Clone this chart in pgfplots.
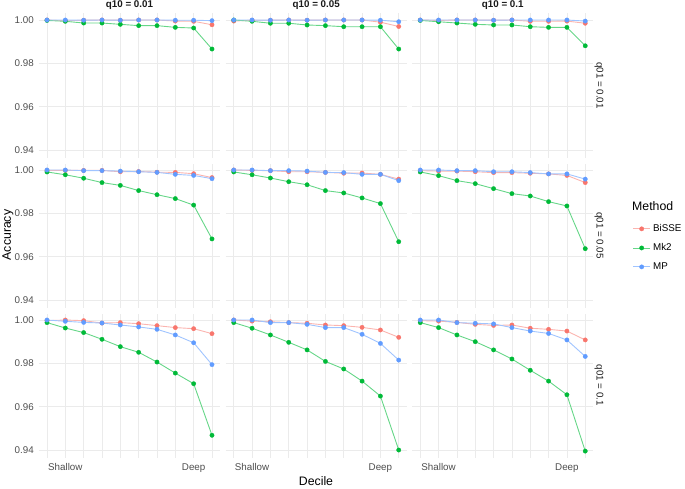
\documentclass[border=0pt]{standalone}
\usepackage{pgfplots}
\pgfplotsset{compat=1.18}
\usepackage{pgfplotstable}
\usepackage{fontspec}
\setmainfont{Liberation Sans}
\definecolor{cB}{HTML}{F8766D}
\definecolor{cM}{HTML}{00BA38}
\definecolor{cP}{HTML}{619CFF}
\definecolor{gridc}{HTML}{EBEBEB}
\definecolor{tickc}{HTML}{4D4D4D}
\definecolor{stripc}{HTML}{1A1A1A}
\newcommand\ticksize{\fontsize{9.8pt}{11pt}\selectfont}
\newcommand\titlesize{\fontsize{12.3pt}{14pt}\selectfont}
\newcommand\stripsize{\fontsize{9.8pt}{11pt}\selectfont\bfseries}
\newcommand\rstripsize{\fontsize{9.8pt}{11pt}\selectfont}

% row 1 (q01 = 0.01)
\pgfplotstableread{
x B M P
1 1.0000 0.9998 1.0000
2 0.9996 0.9994 1.0000
3 0.9999 0.9986 0.9999
4 1.0000 0.9986 1.0000
5 0.9999 0.9980 0.9999
6 1.0000 0.9974 1.0000
7 1.0000 0.9974 1.0000
8 0.9995 0.9966 0.9999
9 0.9994 0.9963 0.9999
10 0.9978 0.9866 0.9997
}\rAa
\pgfplotstableread{
x B M P
1 0.9995 1.0000 1.0000
2 0.9999 0.9994 1.0000
3 0.9999 0.9985 0.9999
4 1.0000 0.9985 1.0000
5 0.9999 0.9977 0.9999
6 1.0000 0.9974 1.0000
7 1.0000 0.9969 1.0000
8 1.0000 0.9969 1.0000
9 0.9990 0.9969 0.9999
10 0.9970 0.9866 0.9992
}\rAb
\pgfplotstableread{
x B M P
1 1.0000 0.9998 1.0000
2 0.9998 0.9992 1.0000
3 1.0000 0.9986 1.0000
4 1.0000 0.9980 1.0000
5 0.9999 0.9977 0.9999
6 1.0000 0.9977 1.0000
7 0.9994 0.9969 1.0000
8 0.9994 0.9966 1.0000
9 0.9995 0.9966 1.0000
10 0.9985 0.9881 0.9995
}\rAc
% row 2 (q01 = 0.05)
\pgfplotstableread{
x B M P
1 0.9998 0.9991 1.0000
2 0.9998 0.9978 1.0000
3 0.9998 0.9962 0.9997
4 0.9998 0.9942 0.9997
5 0.9992 0.9929 0.9995
6 0.9993 0.9905 0.9992
7 0.9990 0.9886 0.9989
8 0.9989 0.9868 0.9980
9 0.9983 0.9838 0.9975
10 0.9965 0.9682 0.9960
}\rBa
\pgfplotstableread{
x B M P
1 1.0000 0.9991 1.0000
2 0.9998 0.9978 1.0000
3 0.9997 0.9963 0.9997
4 0.9992 0.9946 0.9997
5 0.9992 0.9932 0.9995
6 0.9989 0.9905 0.9989
7 0.9985 0.9894 0.9988
8 0.9986 0.9871 0.9980
9 0.9980 0.9845 0.9980
10 0.9958 0.9669 0.9951
}\rBb
\pgfplotstableread{
x B M P
1 0.9997 0.9991 1.0000
2 0.9995 0.9974 1.0000
3 0.9995 0.9951 0.9997
4 0.9992 0.9937 0.9997
5 0.9988 0.9914 0.9992
6 0.9988 0.9891 0.9992
7 0.9985 0.9880 0.9988
8 0.9982 0.9854 0.9982
9 0.9975 0.9834 0.9982
10 0.9942 0.9637 0.9958
}\rBc
% row 3 (q01 = 0.1)
\pgfplotstableread{
x B M P
1 0.9997 0.9988 1.0000
2 1.0000 0.9963 0.9994
3 0.9997 0.9942 0.9989
4 0.9986 0.9911 0.9986
5 0.9988 0.9877 0.9977
6 0.9983 0.9851 0.9968
7 0.9974 0.9806 0.9957
8 0.9965 0.9755 0.9931
9 0.9960 0.9706 0.9895
10 0.9937 0.9468 0.9794
}\rCa
\pgfplotstableread{
x B M P
1 1.0000 0.9988 1.0000
2 0.9995 0.9962 1.0000
3 0.9992 0.9931 0.9988
4 0.9988 0.9897 0.9988
5 0.9985 0.9862 0.9980
6 0.9977 0.9809 0.9965
7 0.9974 0.9774 0.9965
8 0.9966 0.9718 0.9934
9 0.9954 0.9649 0.9892
10 0.9920 0.9400 0.9815
}\rCb
\pgfplotstableread{
x B M P
1 0.9997 0.9988 1.0000
2 0.9995 0.9965 1.0000
3 0.9989 0.9931 0.9988
4 0.9980 0.9900 0.9985
5 0.9975 0.9862 0.9982
6 0.9977 0.9820 0.9965
7 0.9962 0.9768 0.9949
8 0.9957 0.9718 0.9938
9 0.9949 0.9655 0.9908
10 0.9908 0.9395 0.9832
}\rCc

\pgfplotsset{
  panel/.style={
    scale only axis, width=181.5pt, height=144.1pt, anchor=south west,
    xmin=0.55, xmax=10.45, ymin=0.9365, ymax=1.003,
    axis line style={draw=none}, major tick length=0pt,
    xtick={1,...,10}, ytick={0.94,0.96,0.98,1.00},
    xmajorgrids, ymajorgrids,
    grid style={color=gridc, line width=0.8pt},
    xticklabels={}, yticklabels={},
    ticklabel style={font=\ticksize, text=tickc},
    yticklabel style={xshift=-1.5pt},
    xticklabel style={yshift=-2.5pt},
    /pgf/number format/assume math mode=true,
    legend image code/.code={\draw[mark repeat=2,mark phase=2,##1] plot coordinates {(0pt,0pt) (8.5pt,0pt) (17pt,0pt)};},
  },
  sB/.style={draw=cB!55!white, line width=0.9pt, mark=*, mark size=2.2pt, mark options={draw=cB, fill=cB, line width=0.3pt, solid}},
  sM/.style={draw=cM!60!white, line width=0.9pt, mark=*, mark size=2.2pt, mark options={draw=cM, fill=cM, line width=0.3pt, solid}},
  sP/.style={draw=cP!60!white, line width=0.9pt, mark=*, mark size=2.2pt, mark options={draw=cP, fill=cP, line width=0.3pt, solid}},
  leftcol/.style={yticklabels={0.94,0.96,0.98,1.00}},
  bottomrow/.style={xticklabels={,Shallow,,,,,,,Deep,}},
}

\begin{document}
\begin{tikzpicture}
\path[use as bounding box] (0pt,0pt) rectangle (685pt,488pt);
% row 1
\begin{axis}[panel, leftcol, at={(38.75pt,330.4pt)}]
\addplot[sB] table[x=x,y=B]{\rAa};
\addplot[sM] table[x=x,y=M]{\rAa};
\addplot[sP] table[x=x,y=P]{\rAa};
\end{axis}
\begin{axis}[panel, at={(225.5pt,330.4pt)}]
\addplot[sB] table[x=x,y=B]{\rAb};
\addplot[sM] table[x=x,y=M]{\rAb};
\addplot[sP] table[x=x,y=P]{\rAb};
\end{axis}
\begin{axis}[panel, at={(412pt,330.4pt)}]
\addplot[sB] table[x=x,y=B]{\rAc};
\addplot[sM] table[x=x,y=M]{\rAc};
\addplot[sP] table[x=x,y=P]{\rAc};
\end{axis}
% row 2
\begin{axis}[panel, leftcol, at={(38.75pt,180.4pt)}]
\addplot[sB] table[x=x,y=B]{\rBa};
\addplot[sM] table[x=x,y=M]{\rBa};
\addplot[sP] table[x=x,y=P]{\rBa};
\end{axis}
\begin{axis}[panel, at={(225.5pt,180.4pt)}]
\addplot[sB] table[x=x,y=B]{\rBb};
\addplot[sM] table[x=x,y=M]{\rBb};
\addplot[sP] table[x=x,y=P]{\rBb};
\end{axis}
\begin{axis}[panel, at={(412pt,180.4pt)},
  legend style={at={(1.215,0.595)}, anchor=north west, draw=none, fill=none,
    inner sep=0pt, font=\ticksize, row sep=5.5pt,
    nodes={inner sep=2.5pt, text=black, anchor=west}},
  legend cell align=left]
\addplot[sB] table[x=x,y=B]{\rBc};
\addplot[sM] table[x=x,y=M]{\rBc};
\addplot[sP] table[x=x,y=P]{\rBc};
\legend{BiSSE,Mk2,MP}
\end{axis}
% row 3
\begin{axis}[panel, leftcol, bottomrow, at={(38.75pt,30.4pt)}]
\addplot[sB] table[x=x,y=B]{\rCa};
\addplot[sM] table[x=x,y=M]{\rCa};
\addplot[sP] table[x=x,y=P]{\rCa};
\end{axis}
\begin{axis}[panel, bottomrow, at={(225.5pt,30.4pt)}]
\addplot[sB] table[x=x,y=B]{\rCb};
\addplot[sM] table[x=x,y=M]{\rCb};
\addplot[sP] table[x=x,y=P]{\rCb};
\end{axis}
\begin{axis}[panel, bottomrow, at={(412pt,30.4pt)}]
\addplot[sB] table[x=x,y=B]{\rCc};
\addplot[sM] table[x=x,y=M]{\rCc};
\addplot[sP] table[x=x,y=P]{\rCc};
\end{axis}
% strip labels
\node[font=\stripsize, text=stripc] at (129.5pt,482.5pt) {q10 = 0.01};
\node[font=\stripsize, text=stripc] at (316.25pt,482.5pt) {q10 = 0.05};
\node[font=\stripsize, text=stripc] at (502.75pt,482.5pt) {q10 = 0.1};
\node[font=\rstripsize, text=stripc, rotate=-90] at (599pt,402.5pt) {q01 = 0.01};
\node[font=\rstripsize, text=stripc, rotate=-90] at (599pt,252.5pt) {q01 = 0.05};
\node[font=\rstripsize, text=stripc, rotate=-90] at (599pt,102.5pt) {q01 = 0.1};
% axis titles
\node[font=\titlesize, rotate=90] at (8pt,253pt) {Accuracy};
\node[font=\titlesize, inner sep=0pt] at (316pt,7pt) {Decile};
\node[font=\titlesize, anchor=west, inner sep=0pt] at (632pt,282pt) {Method};
\end{tikzpicture}
\end{document}
